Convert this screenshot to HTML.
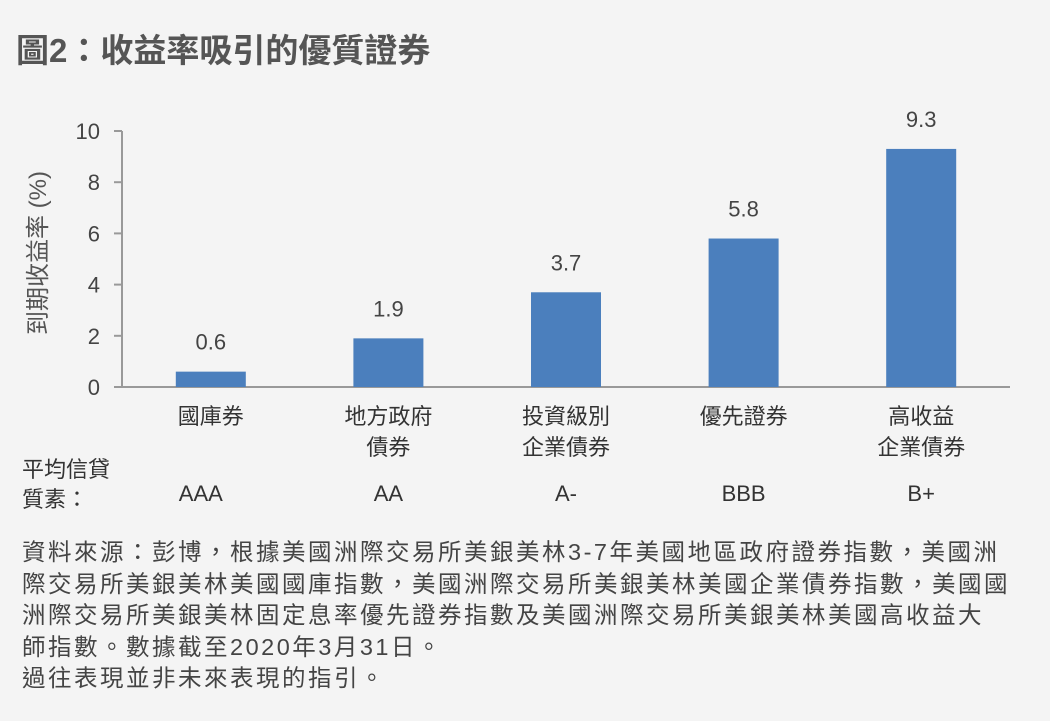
<!DOCTYPE html>
<html><head><meta charset="utf-8"><style>
body{margin:0;background:#f4f4f4;width:1050px;height:721px;overflow:hidden;font-family:"Liberation Sans","Noto Sans CJK TC",sans-serif;color:#444}
svg{position:absolute;left:0;top:0}
.ft{position:absolute;left:22px;top:537px;font-size:23.5px;letter-spacing:2.5px;line-height:31.5px;color:#444;width:1040px;white-space:nowrap}
</style></head><body>
<svg width="1050" height="721" id="c">
<text x="16" y="62" font-size="33" font-weight="bold" fill="#555" font-family="Liberation Sans,Noto Sans CJK TC,sans-serif">圖2：收益率吸引的優質證券</text>
<text transform="translate(46,253) rotate(-90)" text-anchor="middle" font-size="24" fill="#555" font-family="Liberation Sans,Noto Sans CJK TC,sans-serif">到期收益率 (%)</text>
<text x="22" y="477" font-size="22" fill="#333" font-family="Liberation Sans,Noto Sans CJK TC,sans-serif">平均信貸</text>
<text x="22" y="507" font-size="22" fill="#333" font-family="Liberation Sans,Noto Sans CJK TC,sans-serif">質素：</text>
</svg>
<div class="ft">資料來源：彭博，根據美國洲際交易所美銀美林3-7年美國地區政府證券指數，美國洲<br>際交易所美銀美林美國國庫指數，美國洲際交易所美銀美林美國企業債券指數，美國國<br>洲際交易所美銀美林固定息率優先證券指數及美國洲際交易所美銀美林美國高收益大<br>師指數。數據截至2020年3月31日。<br>過往表現並非未來表現的指引。</div>
<script>
const categories=[["國庫券"],["地方政府","債券"],["投資級別","企業債券"],["優先證券"],["高收益","企業債券"]];
const values=[0.6,1.9,3.7,5.8,9.3];
const ratings=["AAA","AA","A-","BBB","B+"];
const ticks=[0,2,4,6,8,10];
const NS="http://www.w3.org/2000/svg",svg=document.getElementById('c');
const x0=122,x1=1010,yb=387,yt=131,ymax=10;
const y=v=>yb-(yb-yt)*v/ymax;
const bw=(x1-x0)/categories.length;
const xc=i=>x0+bw*(i+0.5);
function el(t,a,txt){const e=document.createElementNS(NS,t);for(const k in a)e.setAttribute(k,a[k]);if(txt!=null)e.textContent=txt;svg.appendChild(e);return e;}
const F="Liberation Sans,Noto Sans CJK TC,sans-serif";
let ax=el('line',{x1:x0,x2:x0,y1:yt,y2:yb,stroke:'#999','stroke-width':2});


let bx=el('line',{x1:x0,x2:x1,y1:yb,y2:yb,stroke:'#999','stroke-width':2});


ticks.forEach(t=>{
 let l=el('line',{x1:x0-8,x2:x0,y1:y(t),y2:y(t),stroke:'#999','stroke-width':2});
 
 
 let tx=el('text',{x:x0-22,y:y(t)+8,'text-anchor':'end','font-size':22,fill:'#444','font-family':F},t);
 
 
});
values.forEach((v,i)=>{
 let r=el('rect',{x:xc(i)-35,y:y(v),width:70,height:yb-y(v),fill:'#4b7fbd'});
 
 
 let t=el('text',{x:xc(i),y:y(v)-22,'text-anchor':'middle','font-size':22,fill:'#444','font-family':F},v.toFixed(1));
 
 
 categories[i].forEach((s,j)=>{
  let c=el('text',{x:xc(i),y:424+j*31,'text-anchor':'middle','font-size':22,fill:'#333','font-family':F},s);
  
  
 });
 let rt=el('text',{x:xc(i)+(i==0?-10:0),y:501,'text-anchor':'middle','font-size':22,fill:'#333','font-family':F},ratings[i]);
 
 
});
</script>
</body></html>
